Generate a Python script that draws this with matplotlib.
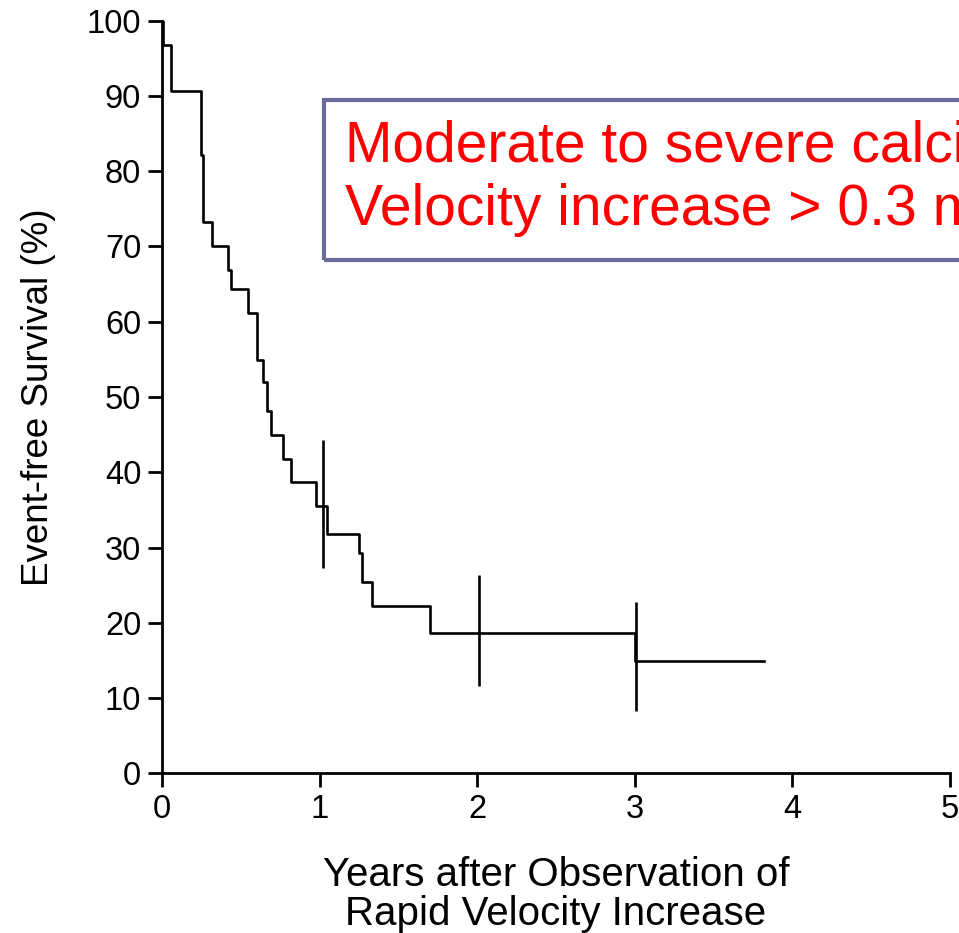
import matplotlib.pyplot as plt
from matplotlib.patches import Rectangle

# Kaplan-Meier steps
times = [0, 0.005, 0.055, 0.25, 0.26, 0.32, 0.42, 0.44, 0.545, 0.60, 0.64, 0.668,
         0.69, 0.77, 0.82, 0.975, 1.048, 1.25, 1.27, 1.33, 1.70, 3.0]
surv = [100, 96.8, 90.6, 82.2, 73.3, 70.0, 66.9, 64.3, 61.2, 54.9, 52.0, 48.1,
        45.0, 41.7, 38.7, 35.5, 31.8, 29.3, 25.4, 22.2, 18.7, 14.9]
end_time = 3.82

# confidence bars
ci_times = [1.02, 2.01, 3.01]
ci_low = [27.3, 11.6, 8.3]
ci_high = [44.3, 26.4, 22.7]

x_ticks = [0, 1, 2, 3, 4, 5]
y_ticks = [0, 10, 20, 30, 40, 50, 60, 70, 80, 90, 100]

plt.rcParams['font.family'] = ['Liberation Sans', 'DejaVu Sans']

fig = plt.figure(figsize=(9.59, 9.33), dpi=100)
ax = fig.add_axes([0.1689, 0.1712, 0.8217, 0.8066])

ax.step(times + [end_time], surv + [surv[-1]], where='post', color='black', lw=1.9)
ax.vlines(ci_times, ci_low, ci_high, color='black', lw=1.9)

ax.set_xlim(0, 5)
ax.set_ylim(0, 100)
ax.set_xticks(x_ticks)
ax.set_yticks(y_ticks)
ax.tick_params(labelsize=23.5, length=10, width=2, direction='out', pad=5)
for side in ['top', 'right']:
    ax.spines[side].set_visible(False)
for side in ['left', 'bottom']:
    ax.spines[side].set_linewidth(2)

ax.set_xlabel('Years after Observation of\nRapid Velocity Increase', fontsize=29, labelpad=22,
              linespacing=1.05)
ax.set_ylabel('Event-free Survival (%)', fontsize=26.5, labelpad=22)

# annotation box, cut off by the right edge like in the original
fig.patches.append(Rectangle((324 / 959, 1 - 260 / 933), 0.7, 160 / 933,
                             transform=fig.transFigure, fill=False,
                             edgecolor='#6b6b9b', lw=3))
fig.text(345 / 959, 1 - 161 / 933, 'Moderate to severe calcification', color='#ff0000',
         fontsize=41, va='baseline', ha='left')
fig.text(345 / 959, 1 - 225 / 933, 'Velocity increase > 0.3 m/s/year', color='#ff0000',
         fontsize=41, va='baseline', ha='left')

fig.savefig('out.png', dpi=100)
